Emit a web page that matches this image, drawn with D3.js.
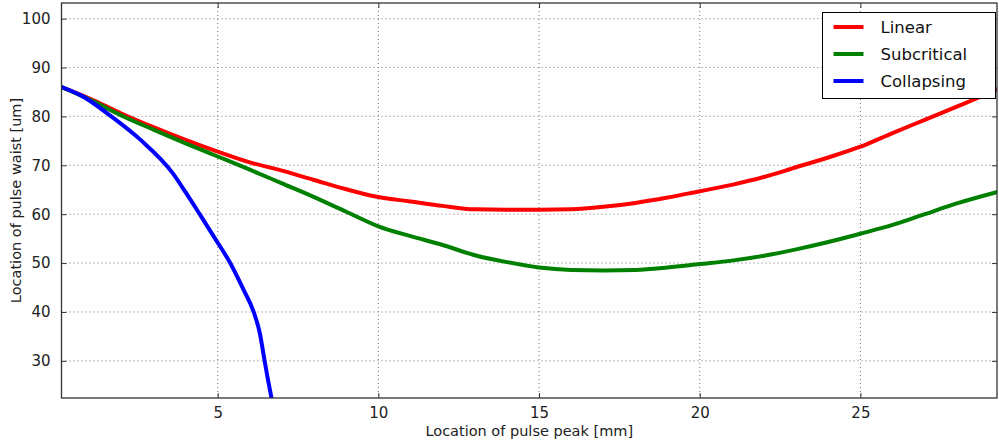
<!DOCTYPE html>
<html>
<head>
  <meta charset="utf-8" />
  <title>Pulse waist vs peak location</title>
  <style type="text/css">
    body { margin: 0; background: #fff; }
    svg { display: block; font-family: 'DejaVu Sans', sans-serif; }
    .grid line { stroke: #777; stroke-width: 1; stroke-dasharray: 1,3; }
  </style>
</head>
<body>
  <div id="chart"></div>

  <script src="https://d3js.org/d3.v7.min.js"></script>
  <script>
  // values
  var linearX = [0.14, 1, 2, 3, 4, 5, 6, 7, 8, 9, 10, 11, 12, 13, 14, 15, 16, 17, 18, 19, 20, 21, 22, 23, 24, 25, 26, 27, 28, 29, 29.3];
  var linearY = [86.0, 83.7, 80.6, 77.8, 75.2, 72.8, 70.6, 68.9, 67.0, 65.1, 63.5, 62.6, 61.7, 61.0, 60.9, 60.9, 61.0, 61.5, 62.3, 63.4, 64.7, 66.0, 67.6, 69.6, 71.6, 73.8, 76.6, 79.3, 82.0, 84.8, 85.7];

  var subX = [0.14, 1, 2, 3, 4, 5, 6, 7, 8, 9, 10, 11, 12, 13, 14, 15, 16, 17, 18, 19, 20, 21, 22, 23, 24, 25, 26, 27, 28, 29.3];
  var subY = [86.0, 83.5, 80.2, 77.3, 74.5, 71.8, 69.1, 66.3, 63.5, 60.5, 57.5, 55.5, 53.7, 51.6, 50.2, 49.1, 48.6, 48.5, 48.6, 49.1, 49.8, 50.5, 51.5, 52.8, 54.3, 56.0, 57.8, 60.0, 62.2, 64.6];

  var collX = [0.14, 0.8, 1.69, 2.6, 3.6, 4.0, 4.44, 4.9, 5.39, 5.8, 6.12, 6.31, 6.46, 6.56, 6.68];
  var collY = [86.0, 84.1, 80.0, 75.2, 68.4, 64.5, 60.0, 55.2, 50.0, 44.6, 40.0, 35.7, 30.0, 26.3, 22.2];

  var seriesNames = ['Linear', 'Subcritical', 'Collapsing'];
  var seriesColors = ['#ff0000', '#008000', '#0000ff'];
  var xTicks = [5, 10, 15, 20, 25];
  var yTicks = [30, 40, 50, 60, 70, 80, 90, 100];

  function zip(xs, ys) { return xs.map(function (x, i) { return {x: x, y: ys[i]}; }); }
  var series = [zip(linearX, linearY), zip(subX, subY), zip(collX, collY)];

  var W = 999, H = 445;
  var margin = {top: 3, right: 2, bottom: 47, left: 61.5};
  var width = W - margin.left - margin.right;
  var height = H - margin.top - margin.bottom;

  var svg = d3.select('#chart').append('svg').attr('width', W).attr('height', H);
  var g = svg.append('g').attr('transform', 'translate(' + margin.left + ',' + margin.top + ')');

  var x = d3.scaleLinear().domain([0.14, 29.25]).range([0, width]);
  var y = d3.scaleLinear().domain([22.4, 103.2]).range([height, 0]);

  // grid
  g.append('g').attr('class', 'grid').selectAll('line').data(xTicks).enter().append('line')
    .attr('x1', function (d) { return x(d); }).attr('x2', function (d) { return x(d); })
    .attr('y1', 0).attr('y2', height);
  g.append('g').attr('class', 'grid').selectAll('line').data(yTicks).enter().append('line')
    .attr('y1', function (d) { return y(d); }).attr('y2', function (d) { return y(d); })
    .attr('x1', 0).attr('x2', width);

  g.append('clipPath').attr('id', 'clip').append('rect').attr('width', width).attr('height', height);

  var line = d3.line()
    .x(function (d) { return x(d.x); })
    .y(function (d) { return y(d.y); })
    .curve(d3.curveMonotoneX);

  g.append('g').attr('clip-path', 'url(#clip)').selectAll('path').data(series).enter().append('path')
    .attr('d', line)
    .attr('fill', 'none')
    .attr('stroke', function (d, i) { return seriesColors[i]; })
    .attr('stroke-width', 4)
    .attr('stroke-linejoin', 'round');

  // axes, ticks pointing inward like matplotlib classic
  var fontSize = '15px';
  var bottomAxis = g.append('g').attr('transform', 'translate(0,' + height + ')')
    .call(d3.axisBottom(x).tickValues(xTicks).tickSize(-5).tickPadding(9));
  var topAxis = g.append('g')
    .call(d3.axisTop(x).tickValues(xTicks).tickSize(-5).tickFormat(''));
  var leftAxis = g.append('g')
    .call(d3.axisLeft(y).tickValues(yTicks).tickSize(-5).tickPadding(11));
  var rightAxis = g.append('g').attr('transform', 'translate(' + width + ',0)')
    .call(d3.axisRight(y).tickValues(yTicks).tickSize(-5).tickFormat(''));

  [bottomAxis, topAxis, leftAxis, rightAxis].forEach(function (a) {
    a.select('.domain').remove();
    a.selectAll('line').attr('stroke', '#333');
    a.selectAll('text').attr('font-size', fontSize).attr('fill', '#222')
      .attr('font-family', "'DejaVu Sans', sans-serif");
  });

  g.append('rect').attr('width', width).attr('height', height)
    .attr('fill', 'none').attr('stroke', '#333').attr('stroke-width', 1.3);

  // axis labels
  svg.append('text').attr('x', margin.left + width / 2).attr('y', 435.5)
    .attr('text-anchor', 'middle').attr('font-size', '14.5px').attr('fill', '#222')
    .text('Location of pulse peak [mm]');
  svg.append('text').attr('transform', 'translate(20.5,' + (margin.top + height / 2) + ') rotate(-90)')
    .attr('text-anchor', 'middle').attr('font-size', '14.5px').attr('fill', '#222')
    .text('Location of pulse waist [um]');

  // legend
  var lg = svg.append('g').attr('transform', 'translate(822.5,12.5)');
  lg.append('rect').attr('width', 173).attr('height', 86)
    .attr('fill', '#fff').attr('stroke', '#000').attr('stroke-width', 1);
  seriesNames.forEach(function (name, i) {
    var cy = 14.5 + i * 27;
    lg.append('line').attr('x1', 11).attr('x2', 41).attr('y1', cy).attr('y2', cy)
      .attr('stroke', seriesColors[i]).attr('stroke-width', 4);
    lg.append('text').attr('x', 58).attr('y', cy + 6).attr('font-size', '16.5px').attr('fill', '#111')
      .text(name);
  });
  </script>
</body>
</html>
